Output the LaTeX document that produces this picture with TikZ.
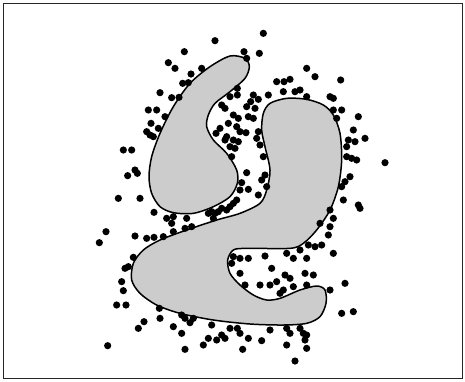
\documentclass[tikz,border=0pt]{standalone}
\tikzset{
    % outline of the two gray regions
    blob/.style={
        draw=black,
        fill=black!20,
        line width=1.5pt,
        line join=round
    },
    % scattered sample points
    dot/.style={
        fill=black
    },
    frame/.style={
        draw=black!85,
        line width=1pt
    }
}
\begin{document}
\begin{tikzpicture}[x=0.3333pt, y=-0.3333pt]
    \useasboundingbox (0,0) rectangle (1395,1143);
    \draw[frame] (10,10) rectangle (1388,1136);

    % upper region
    \draw[blob] plot[smooth cycle] coordinates {
        (690,168) (735,175) (748,200) (735,235) (690,275) (645,310)
        (625,345) (620,380) (640,420) (680,460) (710,510) (712,550)
        (690,590) (640,620) (580,640) (520,638) (480,620) (455,580)
        (447,530) (455,470) (480,400) (520,320) (570,250) (630,200)};

    % lower region
    \draw[blob] plot[smooth cycle] coordinates {
        (860,295) (920,298) (970,315) (1000,345) (1020,400) (1025,480)
        (1015,560) (990,630) (950,690) (910,730) (870,745) (740,745)
        (700,750) (683,780) (690,820) (720,855) (760,885) (800,900)
        (840,895) (900,870) (950,858) (975,870) (978,910) (960,950)
        (920,970) (850,975) (750,972) (640,960) (540,940) (470,915)
        (420,880) (395,840) (400,790) (430,750) (480,720) (560,690)
        (650,660) (720,640) (780,610) (800,570) (810,510) (795,440)
        (785,390) (790,340) (810,310)};

    % sample points
    \foreach \px/\py in {
        790/100, 645/122, 553/155, 732/155, 778/160, 740/175,
        505/188, 525/205, 605/205, 573/222, 920/205, 945/230, 1022/240,
        830/245, 852/245, 870/238, 548/250, 565/248,
        712/265, 690/290, 712/285, 480/278, 515/293, 537/292,
        760/285, 775/298, 752/305, 765/325, 740/320,
        805/285, 850/275, 885/275, 900/270, 920/290, 990/290, 1000/295,
        665/315, 675/325, 700/345, 715/355, 745/350, 760/355,
        445/330, 470/330, 453/370, 495/350, 475/385,
        685/370, 660/385, 710/380, 720/395, 738/398, 648/400, 680/410,
        675/420, 700/420, 715/425, 690/440, 705/445, 695/470,
        775/395, 770/415, 780/435, 790/470,
        1000/330, 1025/330, 1010/355, 1075/350, 1060/390, 1095/415,
        1045/420, 1065/425, 1040/440,
        440/395, 450/405, 460/410,
        370/450, 395/450, 405/510, 412/520, 383/527,
        740/518, 725/548, 720/570, 745/568, 795/525, 785/540, 800/560, 775/585,
        1040/470, 1055/475, 1070/480, 1155/488,
        1050/530, 1035/545, 1025/560, 1030/600, 1075/615, 1080/625,
        355/595, 420/595, 462/637,
        710/600, 700/610, 690/620, 680/630, 665/625, 655/635, 645/640,
        635/635, 625/640, 640/655,
        500/655, 520/650, 515/670, 560/655, 555/685, 575/680, 520/695,
        990/630, 1000/655, 990/680, 960/670, 985/705, 965/735, 945/740,
        925/735, 900/750, 880/775, 860/760, 920/775,
        318/695, 298/728, 405/708, 440/715, 462/712, 490/710,
        1000/760,
        700/770, 720/775, 745/775, 795/768, 695/790, 720/820, 815/805, 735/855,
        400/772, 385/800, 375/805, 365/845, 370/872, 350/915, 378/915,
        855/825, 870/835, 915/820, 940/825, 780/855, 810/855, 830/845,
        850/870, 880/860, 920/855, 990/870, 1035/850, 840/880,
        478/925, 480/955, 545/945, 555/955, 570/968, 580/955,
        1025/940, 1060/935,
        432/965, 415/985, 520/980, 545/1000, 635/975, 690/985, 712/985,
        720/1000, 665/1005, 675/1015, 650/1020, 625/1015, 610/1035,
        810/990, 745/1015, 785/1022, 860/985, 900/985, 870/1000,
        910/1000, 920/1005, 915/1020, 860/1035, 920/1045,
        323/1037, 555/1048, 728/1048, 885/1083}
        \fill[dot] (\px,\py) circle[radius=3.6pt];
\end{tikzpicture}
\end{document}
